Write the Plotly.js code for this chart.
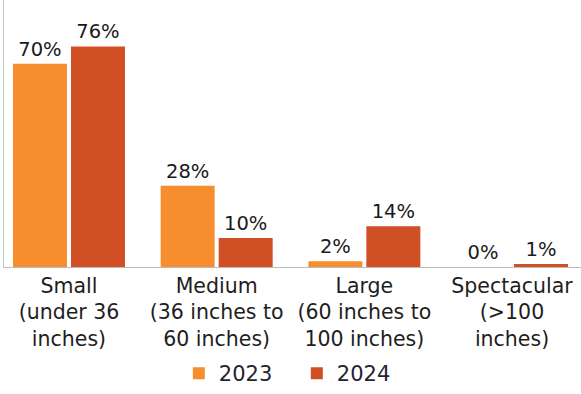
<!DOCTYPE html>
<html><head><meta charset="utf-8">
<script src="https://cdn.plot.ly/plotly-3.0.1.min.js"></script>
<style>html,body{margin:0;padding:0;background:#fff}#chart{width:581px;height:394px}</style>
</head><body><div id="chart"></div>
<script>
const categories = ["Small<br>(under 36<br>inches)", "Medium<br>(36 inches to<br>60 inches)", "Large<br>(60 inches to<br>100 inches)", "Spectacular<br>(>100<br>inches)"];
const series2023 = [70, 28, 2, 0];
const series2024 = [76, 10, 14, 1];
const seriesNames = ["2023", "2024"];
const colors = ["#F68D2E", "#D14F24"];
const font = "'DejaVu Sans', sans-serif";

const mk = (name, vals, color) => ({
  type: "bar", name: name, x: categories, y: vals,
  marker: {color: color},
  text: vals.map(v => v + "%"), textposition: "outside", cliponaxis: false,
  textfont: {family: font, size: 19.5, color: "#1a1a1a"},
  hoverinfo: "skip"
});

const data = [mk(seriesNames[0], series2023, colors[0]), mk(seriesNames[1], series2024, colors[1])];

const layout = {
  width: 581, height: 394,
  margin: {l: 4, r: 0, t: 0, b: 127},
  paper_bgcolor: "#fff", plot_bgcolor: "#fff",
  barmode: "group", bargap: 0.2145, bargroupgap: 0.069,
  font: {family: font, size: 20.5, color: "#222"},
  xaxis: {range: [-0.44, 3.467], showline: true, linecolor: "#bdbdbd", linewidth: 1,
          ticks: "", tickfont: {family: font, size: 20.5, color: "#1e1e1e"}, fixedrange: true},
  yaxis: {range: [0, 92], showline: true, linecolor: "#c4c8cc", linewidth: 1,
          showgrid: false, zeroline: false, showticklabels: false, ticks: "", fixedrange: true},
  showlegend: true,
  legend: {orientation: "h", x: 0.303, xanchor: "left", y: -0.025, yanchor: "bottom", yref: "container",
           bgcolor: "rgba(0,0,0,0)", entrywidth: 73,
           font: {family: font, size: 21, color: "#1f2433"}},
};
Plotly.newPlot("chart", data, layout, {displayModeBar: false, staticPlot: true});
</script></body></html>
